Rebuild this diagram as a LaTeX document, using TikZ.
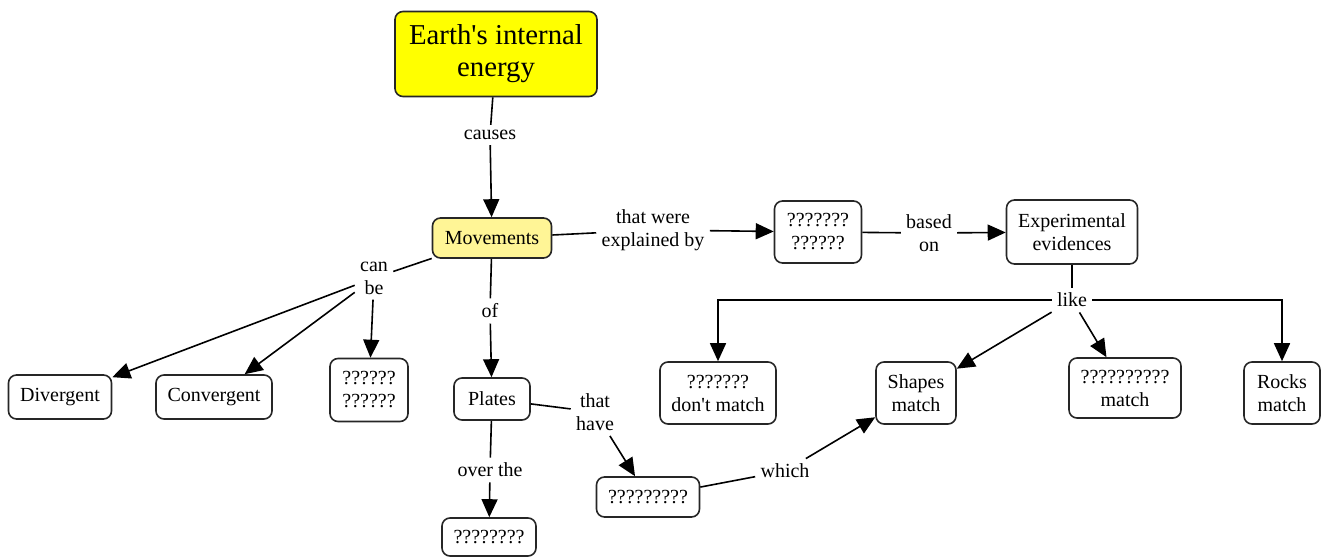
\documentclass[tikz,border=0pt]{standalone}
\usepackage{fontspec}
\setmainfont{Liberation Serif}
\usetikzlibrary{arrows.meta}
\definecolor{titleyellow}{RGB}{255,255,0}
\definecolor{paleyellow}{RGB}{255,245,150}
\tikzset{
	concept/.style = {draw=black!85, line width=0.8pt, rounded corners=4pt, align=center, font=\fontsize{10}{11.5}\selectfont},
	linkword/.style = {align=center, inner sep=2.5pt, font=\fontsize{10}{11.5}\selectfont},
	link/.style = {line width=0.8pt},
	linkarrow/.style = {line width=0.8pt, -{Triangle[length=9pt,width=8pt]}}
}
\begin{document}
\begin{tikzpicture}[x=0.5pt, y=-0.5pt]
	
	\useasboundingbox (0,0) rectangle (1331,556);
	\node[concept, fill=titleyellow, minimum width=101pt, minimum height=42.5pt, font=\fontsize{14.4}{16}\selectfont] (earth) at (496,54) {Earth\textquotesingle s internal\\energy};
	\node[concept, fill=paleyellow, minimum width=59.5pt, minimum height=20pt] (mov) at (492,238) {Movements};
	\node[concept, minimum width=43.5pt, minimum height=31pt] (theory) at (818,232) {???????\\??????};
	\node[concept, minimum width=65.5pt, minimum height=32pt] (exper) at (1072,232) {Experimental\\evidences};
	\node[concept, minimum width=58pt, minimum height=31pt] (dont) at (718,393) {???????\\don\textquotesingle t match};
	\node[concept, minimum width=40pt, minimum height=31pt] (shapes) at (916,393) {Shapes\\match};
	\node[concept, minimum width=56pt, minimum height=30pt] (qmatch) at (1125,388) {??????????\\match};
	\node[concept, minimum width=38pt, minimum height=31pt] (rocks) at (1282,393) {Rocks\\match};
	\node[concept, minimum width=51.5pt, minimum height=22pt] (diverg) at (60,397) {Divergent};
	\node[concept, minimum width=58pt, minimum height=22pt] (converg) at (214,397) {Convergent};
	\node[concept, minimum width=39pt, minimum height=31.5pt] (third) at (369,390) {??????\\??????};
	\node[concept, minimum width=38pt, minimum height=21pt] (plates) at (492,399) {Plates};
	\node[concept, minimum width=47pt, minimum height=19pt] (mantle) at (489,537) {????????};
	\node[concept, minimum width=51.5pt, minimum height=20pt] (edges) at (648,497) {?????????};
	
	\node[linkword] (causes) at (490,135) {causes};
	\node[linkword] (explained) at (653,230) {that were\\explained by};
	\node[linkword] (based) at (929,233) {based\\on};
	\node[linkword] (like) at (1072,300) {like};
	\node[linkword] (canbe) at (374,278) {can\\be};
	\node[linkword] (of) at (490,311) {of};
	\node[linkword] (overthe) at (490,470) {over the};
	\node[linkword] (thathave) at (595,412) {that\\have};
	\node[linkword] (which) at (785,471) {which};
	
	\draw[link] (earth) -- (causes);
	\draw[linkarrow] (causes) -- (mov);
	\draw[link] (mov) -- (explained);
	\draw[linkarrow] (explained) -- (theory);
	\draw[link] (theory) -- (based);
	\draw[linkarrow] (based) -- (exper);
	\draw[link] (exper) -- (like);
	\draw[linkarrow] (like.west) -| (dont.north);
	\draw[linkarrow] (like.east) -| (rocks.north);
	\draw[linkarrow] (like) -- (shapes);
	\draw[linkarrow] (like) -- (qmatch);
	\draw[link] (mov) -- (canbe);
	\draw[linkarrow] (canbe) -- (diverg);
	\draw[linkarrow] (canbe) -- (converg);
	\draw[linkarrow] (canbe) -- (third);
	\draw[link] (mov) -- (of);
	\draw[linkarrow] (of) -- (plates);
	\draw[link] (plates) -- (overthe);
	\draw[linkarrow] (overthe) -- (mantle);
	\draw[link] (plates) -- (thathave);
	\draw[linkarrow] (thathave) -- (edges);
	\draw[link] (edges) -- (which);
	\draw[linkarrow] (which) -- (shapes);
\end{tikzpicture}
\end{document}
